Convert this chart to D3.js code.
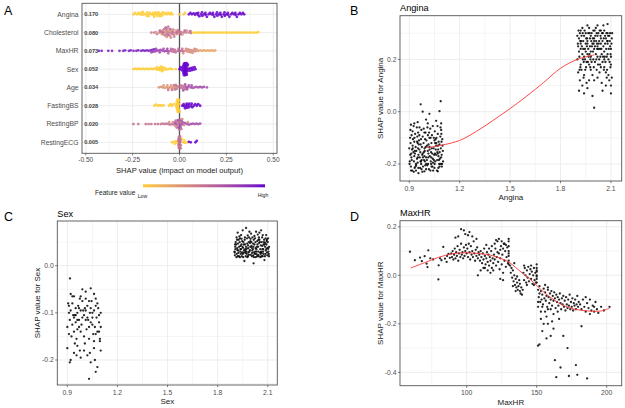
<!DOCTYPE html>
<html><head><meta charset="utf-8">
<script src="https://cdn.jsdelivr.net/npm/d3@7"></script>
<style>body{margin:0;background:#fff}svg{display:block;font-family:"Liberation Sans",Arial,sans-serif}</style>
</head><body><svg id="c" width="625" height="408"></svg>
<script>
// ---------- Panel A data ----------
const features = ["Angina","Cholesterol","MaxHR","Sex","Age","FastingBS","RestingBP","RestingECG"];
const meanAbsShap = ["0.170","0.080","0.073","0.052","0.034","0.028","0.020","0.005"];
const shapTicks = [-0.5,-0.25,0,0.25,0.5];
const shapTickLabels = ["-0.50","-0.25","0.00","0.25","0.50"];
const shapMinor = [-0.375,-0.125,0.125,0.375];
// each group: normalised feature value f (0 = low, 1 = high) and its SHAP values
const shapAngina = [
 {f:0, v:[-0.245,-0.238,-0.228,-0.22,-0.212,-0.205,-0.196,-0.19,-0.18,-0.172,-0.165,-0.158,-0.15,-0.142,-0.135,-0.128,-0.12,-0.112,-0.105,-0.098,-0.09,-0.083,-0.075,-0.068,-0.06,-0.052,-0.045,-0.038,-0.165,-0.14,-0.118,-0.095,-0.175,-0.13,-0.108,-0.2,0.0,0.022,0.03]},
 {f:1, v:[0.05,0.058,0.066,0.075,0.083,0.09,0.098,0.106,0.115,0.122,0.13,0.138,0.146,0.155,0.162,0.17,0.178,0.186,0.195,0.202,0.21,0.218,0.226,0.235,0.242,0.25,0.258,0.266,0.275,0.282,0.29,0.298,0.306,0.315,0.322,0.33,0.338,0.345,0.1,0.14,0.18,0.22,0.26,0.3,0.12,0.2,0.24]}
];
const shapCholesterol = [
 {f:0.45, v:[-0.15,-0.135,-0.12,-0.108,-0.098,-0.09,-0.082,-0.076,-0.07,-0.064,-0.058,-0.052,-0.046,-0.04,-0.034,-0.028,-0.022,-0.015,-0.008,0.0,0.01,0.022,0.035,0.05,0.062,-0.085,-0.072,-0.066,-0.06,-0.048,-0.03]},
 {f:0.3, v:[-0.125,-0.095,-0.078,-0.068,-0.055,-0.043,-0.02,-0.005,0.015,0.04]},
 {f:0.6, v:[-0.105,-0.088,-0.074,-0.062,-0.05,-0.036,-0.012,0.005,0.028,0.058]},
 {f:0, v:[0.075,0.086,0.097,0.108,0.12,0.131,0.142,0.153,0.165,0.176,0.188,0.199,0.21,0.222,0.233,0.245,0.256,0.268,0.279,0.29,0.302,0.313,0.325,0.336,0.348,0.36,0.372,0.385,0.398,0.41,0.42]}
];
const shapMaxHR = [
 {f:0.92, v:[-0.43,-0.415,-0.38,-0.36,-0.32,-0.3,-0.29,-0.27,-0.26,-0.245,-0.23,-0.22,-0.205,-0.195,-0.185,-0.175,-0.165,-0.155,-0.145,-0.135]},
 {f:0.75, v:[-0.15,-0.14,-0.13,-0.12,-0.11,-0.1,-0.09,-0.08,-0.07,-0.06,-0.125,-0.105,-0.085,-0.065]},
 {f:0.55, v:[-0.06,-0.05,-0.04,-0.03,-0.02,-0.01,0.0,0.01,-0.045,-0.025,-0.005,0.015,-0.035,0.02]},
 {f:0.35, v:[0.02,0.03,0.04,0.05,0.06,0.07,0.08,0.09,0.1,0.035,0.055,0.065,0.075,0.045,0.085]},
 {f:0.22, v:[0.11,0.12,0.13,0.14,0.15,0.16,0.17,0.18,0.19]}
];
const shapSex = [
 {f:0, v:[-0.245,-0.235,-0.225,-0.215,-0.205,-0.195,-0.185,-0.175,-0.165,-0.155,-0.145,-0.135,-0.125,-0.115,-0.108,-0.1,-0.095,-0.09,-0.085,-0.078,-0.07,-0.06,-0.05,-0.04,-0.12,-0.105,-0.092,-0.02]},
 {f:1, v:[0.0,0.005,0.01,0.015,0.018,0.021,0.024,0.027,0.03,0.033,0.036,0.039,0.042,0.045,0.05,0.055,0.06,0.065,0.07,0.075,0.08,0.085,0.02,0.025,0.028,0.031,0.034,0.037,0.04,0.022,0.03,0.035,0.026,0.032,0.038,0.029,0.024,0.041]}
];
const shapAge = [
 {f:0.3, v:[-0.11,-0.1,-0.09,-0.08,-0.07,-0.06,-0.05,-0.04,-0.085,-0.065,-0.045,-0.03,-0.02]},
 {f:0.5, v:[-0.06,-0.04,-0.03,-0.02,-0.01,0.0,0.01,0.02,0.03,-0.015,0.005,0.025,-0.025,0.015]},
 {f:0.7, v:[0.02,0.03,0.04,0.05,0.06,0.07,0.08,0.09,0.1,0.11,0.12,0.13,0.146,0.035,0.045,0.065]}
];
const shapFastingBS = [
 {f:0, v:[-0.134,-0.125,-0.115,-0.105,-0.095,-0.085,-0.055,-0.048,-0.04,-0.032,-0.018,-0.015,-0.012,-0.01,-0.008,-0.006,-0.004,-0.002,0.0,-0.014,-0.009,-0.005,-0.011,-0.003,-0.007,-0.016]},
 {f:1, v:[0.015,0.022,0.03,0.038,0.045,0.052,0.06,0.068,0.076,0.084,0.092,0.1,0.11,0.025,0.035,0.05,0.065,0.04]}
];
const shapRestingBP = [
 {f:0.5, v:[-0.246,-0.22,-0.18,-0.165,-0.15,-0.13,-0.115,-0.1,-0.09,-0.08,-0.07,-0.06,-0.05,-0.04,-0.03,-0.02,-0.015,-0.01,-0.005,0.0,0.005,0.01,-0.012,-0.002,0.008]},
 {f:0.7, v:[-0.025,-0.018,-0.008,0.003,0.012,0.02,0.03,0.04,0.05,0.06,0.07,0.08,0.09,0.1,0.11,-0.004,0.006,0.015]},
 {f:0.35, v:[-0.055,-0.035,-0.022,0.015,0.025,0.045]}
];
const shapRestingECG = [
 {f:0, v:[-0.04,-0.03,-0.02,-0.012,0.012,0.02,0.03,0.04,-0.025,0.025]},
 {f:0.5, v:[-0.006,-0.004,-0.002,0.0,0.002,0.004,0.006,-0.005,-0.001,0.001,0.003,-0.003,0.005,-0.007,0.007,0.0,-0.002,0.002]},
 {f:1, v:[0.05,0.06,0.085,0.092]}
];
const shapByFeature = [shapAngina,shapCholesterol,shapMaxHR,shapSex,shapAge,shapFastingBS,shapRestingBP,shapRestingECG];

// ---------- Panel B data (Angina dependence) ----------
const anginaLow = [[0.91,-0.21],[0.93,-0.17],[0.95,-0.12],[0.97,-0.19],[0.99,-0.08],[1.01,-0.15],[1.03,-0.2],[1.05,-0.11],[1.07,-0.16],[1.09,-0.07],
[0.92,-0.13],[0.94,-0.2],[0.96,-0.09],[0.98,-0.16],[1.0,-0.22],[1.02,-0.1],[1.04,-0.18],[1.06,-0.13],[1.08,-0.21],[1.1,-0.15],
[0.905,-0.1],[0.925,-0.155],[0.945,-0.06],[0.965,-0.215],[0.985,-0.12],[1.005,-0.185],[1.025,-0.065],[1.045,-0.14],[1.065,-0.225],[1.085,-0.095],
[0.915,-0.185],[0.935,-0.085],[0.955,-0.165],[0.975,-0.135],[0.995,-0.205],[1.015,-0.125],[1.035,-0.09],[1.055,-0.19],[1.075,-0.115],[1.095,-0.2],
[0.9,-0.14],[0.92,-0.075],[0.94,-0.225],[0.96,-0.145],[0.98,-0.095],[1.0,-0.175],[1.02,-0.135],[1.04,-0.055],[1.06,-0.165],[1.08,-0.125],
[0.91,-0.05],[0.93,-0.115],[0.95,-0.195],[0.97,-0.105],[0.99,-0.17],[1.01,-0.045],[1.03,-0.155],[1.05,-0.215],[1.07,-0.085],[1.09,-0.175],
[0.912,-0.16],[0.932,-0.215],[0.952,-0.14],[0.972,-0.07],[0.992,-0.15],[1.012,-0.2],[1.032,-0.12],[1.052,-0.075],[1.072,-0.145],[1.092,-0.115],
[0.902,-0.2],[0.922,-0.105],[0.942,-0.15],[0.962,-0.175],[0.982,-0.21],[1.002,-0.11],[1.022,-0.17],[1.042,-0.225],[1.062,-0.1],[1.082,-0.18],
[0.918,-0.225],[0.938,-0.135],[0.958,-0.11],[0.978,-0.23],[0.998,-0.135],[1.018,-0.08],[1.038,-0.21],[1.058,-0.145],[1.078,-0.2],[1.098,-0.13],
[0.908,-0.12],[0.928,-0.19],[0.948,-0.095],[0.968,-0.125],[0.988,-0.185],[1.008,-0.06],[1.028,-0.19],[1.048,-0.165],[1.068,-0.055],[1.088,-0.14],
[0.906,-0.165],[0.926,-0.055],[0.946,-0.18],[0.966,-0.155],[0.986,-0.065],[1.006,-0.13],[1.026,-0.225],[1.046,-0.1],[1.066,-0.185],[1.086,-0.06],
[0.914,-0.09],[0.934,-0.16],[0.954,-0.215],[0.974,-0.185],[0.994,-0.105],[1.014,-0.16],[1.034,-0.14],[1.054,-0.12],[1.074,-0.17],[1.094,-0.21],
[0.903,-0.19],[0.921,-0.14],[0.941,-0.205],[0.961,-0.06],[0.981,-0.175],[1.001,-0.2],[1.021,-0.145],[1.041,-0.195],[1.061,-0.12],[1.081,-0.155],[1.101,-0.19],
[0.911,-0.225],[0.931,-0.1],[0.951,-0.175],[0.971,-0.2],[0.991,-0.14],[1.011,-0.09],[1.031,-0.175],[1.051,-0.2],[1.071,-0.13],[1.091,-0.085],
[0.917,-0.145],[0.937,-0.21],[0.957,-0.125],[0.977,-0.165],[0.997,-0.08],[1.017,-0.22],[1.037,-0.16],[1.057,-0.105],[1.077,-0.185],[1.097,-0.105],
[0.907,-0.07],[0.927,-0.23],[0.947,-0.115],[0.967,-0.19],[0.987,-0.155],[1.007,-0.205],[1.027,-0.1],[1.047,-0.185],[1.067,-0.155],[1.087,-0.2],
[0.913,-0.175],[0.933,-0.15],[0.953,-0.08],[0.973,-0.22],[0.993,-0.19],[1.013,-0.175],[1.033,-0.21],[1.053,-0.16],[1.073,-0.215],[1.093,-0.165],
[0.968,0.028],[1.087,0.04],[0.98,0.0],[1.02,-0.008],[1.08,0.002],[1.06,-0.035],[0.95,-0.04],[1.0,-0.03],[0.93,-0.045],[1.09,-0.045],[0.955,-0.235],[1.07,-0.228],[0.99,-0.228]];
const anginaHigh = [[1.91,0.28],[1.93,0.22],[1.95,0.3],[1.97,0.18],[1.99,0.26],[2.01,0.32],[2.03,0.2],[2.05,0.27],[2.07,0.15],[2.09,0.29],
[1.9,0.2],[1.92,0.31],[1.94,0.14],[1.96,0.27],[1.98,0.23],[2.0,0.12],[2.02,0.29],[2.04,0.17],[2.06,0.31],[2.08,0.22],[2.1,0.18],
[1.905,0.25],[1.925,0.16],[1.945,0.24],[1.965,0.3],[1.985,0.19],[2.005,0.25],[2.025,0.3],[2.045,0.11],[2.065,0.26],[2.085,0.14],[2.105,0.28],
[1.915,0.12],[1.935,0.27],[1.955,0.19],[1.975,0.25],[1.995,0.31],[2.015,0.16],[2.035,0.24],[2.055,0.33],[2.075,0.21],[2.095,0.25],
[1.91,0.23],[1.93,0.1],[1.95,0.26],[1.97,0.32],[1.99,0.14],[2.01,0.22],[2.03,0.27],[2.05,0.19],[2.07,0.28],[2.09,0.12],
[1.92,0.26],[1.94,0.21],[1.96,0.09],[1.98,0.29],[2.0,0.24],[2.02,0.13],[2.04,0.28],[2.06,0.23],[2.08,0.3],[2.1,0.1],
[1.9,0.29],[1.92,0.18],[1.94,0.29],[1.96,0.22],[1.98,0.16],[2.0,0.28],[2.02,0.21],[2.04,0.31],[2.06,0.17],[2.08,0.26],[2.1,0.24],
[1.905,0.15],[1.925,0.29],[1.945,0.2],[1.965,0.24],[1.985,0.3],[2.005,0.19],[2.025,0.24],[2.045,0.22],[2.065,0.29],[2.085,0.2],[2.105,0.13],
[1.915,0.3],[1.935,0.24],[1.955,0.11],[1.975,0.28],[1.995,0.2],[2.015,0.3],[2.035,0.18],[2.055,0.25],[2.075,0.13],[2.095,0.3],
[1.912,0.21],[1.932,0.3],[1.952,0.17],[1.972,0.22],[1.992,0.28],[2.012,0.27],[2.032,0.15],[2.052,0.3],[2.072,0.24],[2.092,0.19],
[1.918,0.17],[1.938,0.19],[1.958,0.28],[1.978,0.2],[1.998,0.17],[2.018,0.24],[2.038,0.29],[2.058,0.16],[2.078,0.27],[2.098,0.22],
[1.903,0.26],[1.923,0.27],[1.943,0.31],[1.963,0.19],[1.983,0.27],[2.003,0.31],[2.023,0.18],[2.043,0.24],[2.063,0.21],[2.083,0.29],[2.103,0.26],
[1.913,0.16],[1.933,0.2],[1.953,0.28],[1.973,0.3],[1.993,0.23],[2.013,0.2],[2.033,0.31],[2.053,0.21],[2.073,0.3],[2.093,0.27],
[1.907,0.31],[1.927,0.25],[1.947,0.16],[1.967,0.21],[1.987,0.25],[2.007,0.29],[2.027,0.26],[2.047,0.3],[2.067,0.19],[2.087,0.24],[2.107,0.3],
[1.917,0.27],[1.937,0.13],[1.957,0.25],[1.977,0.17],[1.997,0.26],[2.017,0.26],[2.037,0.21],[2.057,0.28],[2.077,0.16],[2.097,0.17],
[1.91,0.08],[1.94,0.07],[1.96,0.33],[1.99,0.06],[2.02,0.33],[2.05,0.08],[2.08,0.335],[2.1,0.07],[2.0,0.015],[1.93,0.32],[2.07,0.1],[1.97,0.12],
[1.95,0.23],[2.0,0.27],[2.04,0.26],[1.92,0.24],[2.08,0.27],[1.98,0.21],[2.06,0.2],[2.02,0.25],[1.96,0.26],[2.1,0.21]];
const anginaLoess = [[1.0,-0.138],[1.1,-0.127],[1.2,-0.11],[1.3,-0.075],[1.4,-0.033],[1.5,0.012],[1.6,0.06],[1.7,0.112],[1.8,0.166],[1.9,0.2],[2.0,0.217]];

// ---------- Panel C data (Sex dependence) ----------
const sexLow = [[0.91,-0.1],[0.93,-0.08],[0.95,-0.12],[0.97,-0.09],[0.99,-0.11],[1.01,-0.07],[1.03,-0.13],[1.05,-0.1],[1.07,-0.085],[1.09,-0.12],
[0.9,-0.13],[0.92,-0.095],[0.94,-0.065],[0.96,-0.115],[0.98,-0.14],[1.0,-0.105],[1.02,-0.085],[1.04,-0.12],[1.06,-0.095],[1.08,-0.14],[1.1,-0.1],
[0.905,-0.08],[0.925,-0.15],[0.945,-0.105],[0.965,-0.085],[0.985,-0.125],[1.005,-0.09],[1.025,-0.115],[1.045,-0.075],[1.065,-0.13],[1.085,-0.09],
[0.915,-0.115],[0.935,-0.105],[0.955,-0.155],[0.975,-0.07],[0.995,-0.095],[1.015,-0.135],[1.035,-0.1],[1.055,-0.145],[1.075,-0.11],[1.095,-0.16],
[0.91,-0.145],[0.93,-0.125],[0.95,-0.09],[0.97,-0.13],[0.99,-0.075],[1.01,-0.115],[1.03,-0.155],[1.05,-0.125],[1.07,-0.07],[1.09,-0.105],
[0.92,-0.06],[0.94,-0.11],[0.96,-0.1],[0.98,-0.095],[1.0,-0.15],[1.02,-0.11],[1.04,-0.09],[1.06,-0.16],[1.08,-0.08],[1.1,-0.13],
[0.9,-0.175],[0.92,-0.2],[0.94,-0.185],[0.96,-0.17],[0.98,-0.195],[1.0,-0.18],[1.02,-0.19],[1.04,-0.205],[1.06,-0.175],[1.08,-0.215],[1.1,-0.18],
[0.915,-0.205],[0.945,-0.165],[0.975,-0.18],[1.005,-0.165],[1.035,-0.185],[1.065,-0.2],[1.095,-0.155],[1.07,-0.225],[1.03,-0.24],[0.955,-0.19],
[0.916,-0.027],[0.99,-0.05],[1.04,-0.048],[1.06,-0.06],[0.93,-0.065],[1.01,-0.055],[0.98,-0.065],
[0.95,-0.105],[0.97,-0.115],[1.01,-0.095],[1.03,-0.075],[0.91,-0.085],[1.05,-0.11],[1.09,-0.14],[0.96,-0.135],[1.07,-0.145],[0.94,-0.14]];
const sexHigh = [
[1.901,0.03],[1.911,0.045],[1.92,0.02],[1.932,0.05],[1.94,0.035],[1.951,0.025],[1.962,0.055],[1.97,0.04],[1.981,0.02],[1.99,0.03],[2.002,0.05],[2.011,0.035],[2.02,0.045],[2.031,0.025],[2.042,0.04],[2.05,0.055],[2.061,0.03],[2.07,0.02],[2.08,0.045],[2.091,0.035],[2.1,0.05],
[1.905,0.04],[1.914,0.025],[1.926,0.055],[1.935,0.03],[1.944,0.02],[1.956,0.045],[1.965,0.035],[1.974,0.025],[1.986,0.05],[1.995,0.04],[2.005,0.02],[2.016,0.055],[2.025,0.03],[2.034,0.04],[2.046,0.02],[2.055,0.035],[2.064,0.05],[2.075,0.045],[2.086,0.025],[2.095,0.055],[2.104,0.03],
[1.903,0.022],[1.917,0.037],[1.923,0.032],[1.937,0.042],[1.947,0.052],[1.953,0.018],[1.967,0.027],[1.977,0.047],[1.983,0.037],[1.997,0.057],[2.007,0.032],[2.013,0.022],[2.027,0.037],[2.037,0.052],[2.043,0.03],[2.057,0.025],[2.067,0.042],[2.073,0.035],[2.087,0.058],[2.097,0.022],[2.108,0.04],
[1.908,0.05],[1.912,0.018],[1.928,0.04],[1.938,0.025],[1.942,0.045],[1.958,0.033],[1.968,0.02],[1.972,0.03],[1.988,0.06],[1.998,0.023],[2.003,0.042],[2.018,0.028],[2.028,0.018],[2.032,0.035],[2.048,0.048],[2.058,0.043],[2.062,0.02],[2.078,0.055],[2.088,0.032],[2.092,0.045],[2.106,0.025],
[1.906,0.035],[1.916,0.055],[1.924,0.027],[1.934,0.058],[1.946,0.028],[1.954,0.05],[1.964,0.045],[1.976,0.058],[1.984,0.028],[1.994,0.048],[2.006,0.027],[2.014,0.04],[2.024,0.058],[2.036,0.02],[2.044,0.055],[2.054,0.028],[2.066,0.06],[2.074,0.025],[2.084,0.04],[2.096,0.028],[2.102,0.058],
[1.902,0.028],[1.918,0.033],[1.922,0.047],[1.933,0.018],[1.948,0.04],[1.952,0.038],[1.963,0.06],[1.978,0.018],[1.982,0.043],[1.993,0.033],[2.008,0.06],[2.012,0.047],[2.023,0.025],[2.038,0.045],[2.042,0.023],[2.053,0.05],[2.068,0.035],[2.072,0.03],[2.083,0.02],[2.098,0.038],[2.107,0.02],
[1.904,0.045],[1.913,0.06],[1.927,0.02],[1.936,0.035],[1.943,0.057],[1.957,0.028],[1.966,0.031],[1.973,0.036],[1.987,0.023],[1.996,0.052],[2.004,0.038],[2.017,0.018],[2.026,0.05],[2.033,0.03],[2.047,0.06],[2.056,0.018],[2.063,0.027],[2.077,0.05],[2.085,0.048],[2.093,0.052],[2.103,0.036],
[1.92,0.07],[1.95,0.075],[1.97,0.08],[2.0,0.068],[2.03,0.072],[2.05,0.07],[2.07,0.065],[2.09,0.065],[1.94,0.065],[1.99,0.072],[2.02,0.063],[2.06,0.075],[2.015,0.005],[1.96,0.01],[2.08,0.012],[1.93,0.062],[2.04,0.066],[1.98,0.064]];

// ---------- Panel D data (MaxHR dependence) ----------
const maxHRPts = [[59.5,0.097],[63,0.062],[66.7,0.073],[68,0.058],[70,0.079],[71.4,0.048],[72,0.034],[72.6,0.103],[74,0.07],[76,0.065],[79.8,-0.017],[80,0.041],[81,0.07],[82,0.062],[83.3,0.117],[84.5,0.069],[85.7,0.055],[86,0.08],[87,0.088],[88,0.072],
[89,0.09],[89.5,0.075],[90,0.1],[90.5,0.065],[91,0.085],[91.5,0.11],[92,0.07],[92.5,0.095],[93,0.08],[93.5,0.12],[94,0.06],[94.5,0.09],[95,0.105],[95.5,0.075],[96,0.13],[96.5,0.085],[97,0.095],[97.5,0.07],[98,0.115],[98.5,0.08],[99,0.1],[99.5,0.125],[100,0.09],[100.5,0.11],[101,0.075],[101.5,0.13],[102,0.095],[102.5,0.065],[103,0.12],[103.5,0.085],[104,0.1],[104.5,0.075],[105,0.14],[105.5,0.09],[106,0.06],[106.5,0.105],[107,0.08],[107.5,0.115],[108,0.07],[108.5,0.095],
[92,0.155],[94,0.16],[96,0.19],[98,0.185],[99,0.17],[101,0.165],[104,0.16],[107,0.15],[102,0.178],[108,0.0],[110,0.02],[113,0.03],
[109,0.085],[109.5,0.06],[110,0.1],[110.5,0.075],[111,0.05],[111.5,0.09],[112,0.065],[112.5,0.11],[113,0.08],[113.5,0.045],[114,0.07],[114.5,0.095],[115,0.055],[115.5,0.085],[116,0.04],[116.5,0.075],[117,0.06],[117.5,0.1],[118,0.03],[118.5,0.07],[119,0.05],[119.5,0.085],[120,0.065],[120.5,0.11],[121,0.04],[121.5,0.075],[122,0.14],[122.5,0.055],[123,0.09],[123.5,0.025],[124,0.07],[124.5,0.12],[125,0.045],[125.5,0.085],[126,0.01],[126.5,0.13],[127,0.06],[127.5,0.1],[128,0.035],[128.5,0.075],[129,0.115],[129.5,0.05],[130,0.14],[130,0.12],[130,0.1],[130,0.08],[130,0.06],[130,0.045],[130,0.15],[130,0.09],
[121,0.145],[123,0.15],[125,0.14],[127,0.13],[126,0.11],[128,0.125],[124,0.105],[122,0.095],[120,0.13],[119,0.02],[117,0.01],[115,0.02],[112,0.03],[124,-0.015],[126,-0.02],[118,0.12],[116,0.11],[114,0.125],
[131,0.04],[131.5,0.01],[132,0.03],[132.5,-0.01],[133,0.02],[133.5,-0.025],[134,0.0],[134.5,-0.04],[135,-0.015],[135.5,-0.05],[136,-0.03],[136.5,-0.06],[137,-0.045],[137.5,-0.02],[138,-0.065],[138.5,-0.075],[139,-0.05],[139.5,-0.08],[140,-0.06],[134,0.05],[136,-0.005],[138,-0.035],[133,-0.045],[135,-0.065],
[140.5,0.01],[141,-0.02],[141.5,0.03],[142,0.0],[142.5,-0.03],[143,0.02],[143.5,-0.01],[144,0.035],[144.5,-0.025],[145,0.005],[145.5,0.025],[146,-0.015],[146.5,0.015],[147,-0.035],[147.5,0.0],[148,0.03],[148.5,-0.02],[149,0.01],[149.5,-0.03],[150,0.045],[150,0.03],[150,0.015],[150,0.0],[150,-0.015],[150,-0.03],[150,0.02],[150,-0.005],[141,0.04],[143,-0.04],[146,0.04],[148,-0.04],
[151,-0.06],[151.5,-0.09],[152,-0.075],[152.5,-0.11],[153,-0.065],[153.5,-0.1],[154,-0.08],[154.5,-0.12],[155,-0.055],[155.5,-0.095],[156,-0.07],[156.5,-0.105],[157,-0.085],[157.5,-0.13],[158,-0.06],[158.5,-0.09],[159,-0.115],[159.5,-0.075],[160,-0.1],[160.5,-0.065],[161,-0.125],[161.5,-0.085],[162,-0.105],[162.5,-0.07],[163,-0.095],[163.5,-0.135],[164,-0.08],[164.5,-0.11],[165,-0.09],[165.5,-0.125],[166,-0.1],[166.5,-0.075],[167,-0.115],[167.5,-0.14],[168,-0.095],[168.5,-0.12],[169,-0.085],[169.5,-0.13],[170,-0.105],[170.5,-0.145],[171,-0.09],[171.5,-0.12],[172,-0.135],[172.5,-0.1],[173,-0.125],[173.5,-0.08],[174,-0.14],[174.5,-0.11],[175,-0.13],[175.5,-0.095],[176,-0.145],[176.5,-0.115],[177,-0.125],[177.5,-0.1],[178,-0.14],[178.5,-0.12],[179,-0.085],[179.5,-0.13],[180,-0.11],
[152,-0.045],[156,-0.04],[158,-0.05],[154,-0.13],[156,-0.15],[160,-0.14],[162,-0.16],[165,-0.15],[158,-0.14],[151,-0.13],[153,-0.15],[151,-0.11],
[151,-0.29],[152,-0.285],[154,-0.23],[155,-0.2],[153,-0.18],[157,-0.26],[158,-0.2],[160,-0.25],[161,-0.19],[163,-0.35],[164,-0.42],[162,-0.22],[167,-0.38],[169,-0.25],[172,-0.3],[173,-0.415],[178,-0.37],[179,-0.41],[182,-0.21],[186,-0.425],[157,-0.17],[166,-0.18],
[181,-0.12],[182,-0.14],[183,-0.1],[184,-0.13],[185,-0.15],[186,-0.115],[187,-0.135],[188,-0.1],[189,-0.145],[190,-0.125],[191,-0.15],[192,-0.11],[193,-0.14],[194,-0.155],[196,-0.13],[198,-0.145],[202,-0.13],[185,-0.09],[188,-0.16],[191,-0.13]];
const maxHRLoess = [[60,0.03],[70,0.052],[80,0.074],[90,0.089],[100,0.093],[110,0.089],[117,0.083],[125,0.068],[130,0.055],[135,0.032],[140,0.008],[145,-0.015],[150,-0.042],[155,-0.069],[162,-0.1],[169,-0.124],[176,-0.138],[183,-0.145],[190,-0.148],[196,-0.147],[202,-0.136]];

// ---------- drawing ----------
const svg = d3.select("#c");
const GRID = "#ebebeb", BORDER = "#555", TICKTXT = "#4d4d4d", TITLE = "#1a1a1a";
const colorScale = d3.scaleLinear().domain([0,1]).range(["#FFCC33","#6600CC"]).interpolate(d3.interpolateLab);

function letter(t,x,y){ svg.append("text").attr("x",x).attr("y",y).attr("font-size",12.5).attr("fill","#000").text(t); }

// Panel A
(function(){
  const L=82,R=277,T=3.3,B=153.3;
  const x=d3.scaleLinear().domain([-0.52,0.52]).range([L,R]);
  const y=d3.scalePoint().domain(features).range([T,B]).padding(0.6);
  const g=svg.append("g");
  g.selectAll(".mn").data(shapMinor).join("line").attr("x1",d=>x(d)).attr("x2",d=>x(d)).attr("y1",T).attr("y2",B).attr("stroke",GRID).attr("stroke-width",0.5);
  g.selectAll(".mj").data(shapTicks).join("line").attr("x1",d=>x(d)).attr("x2",d=>x(d)).attr("y1",T).attr("y2",B).attr("stroke",GRID).attr("stroke-width",0.9);
  g.selectAll(".hr").data(features).join("line").attr("x1",L).attr("x2",R).attr("y1",d=>y(d)).attr("y2",d=>y(d)).attr("stroke",GRID).attr("stroke-width",0.9);
  g.append("line").attr("x1",x(0)).attr("x2",x(0)).attr("y1",T).attr("y2",B).attr("stroke","#555").attr("stroke-width",1.3);
  const r=1.4, cap=6, minGap=1.9;
  features.forEach((feat,i)=>{
    const pts=[];
    shapByFeature[i].forEach(gr=>gr.v.forEach(v=>pts.push({px:x(v),f:gr.f})));
    const order=pts.slice().sort((a,b)=>a.px-b.px);
    const placed=[];
    order.forEach(p=>{
      let best=0,bestScore=-1;
      for(let k=0;k<60;k++){
        const m=Math.ceil(k/2)*0.5, dy=k%2?-m:m;
        if(Math.abs(dy)>cap)break;
        let minD=Infinity;
        for(let j=placed.length-1;j>=0;j--){const q=placed[j]; if(p.px-q.px>2*r)break; const d=Math.hypot(p.px-q.px,dy-q.dy); if(d<minD)minD=d;}
        if(minD>=minGap){best=dy;break;}
        if(minD>bestScore){bestScore=minD;best=dy;}
      }
      p.dy=best; placed.push(p);
    });
    g.append("g").selectAll("circle").data(pts).join("circle")
      .attr("cx",d=>d.px).attr("cy",d=>y(feat)+d.dy).attr("r",r)
      .attr("fill",d=>colorScale(d.f)).attr("fill-opacity",0.85);
  });
  g.append("rect").attr("x",L).attr("y",T).attr("width",R-L).attr("height",B-T).attr("fill","none").attr("stroke",BORDER).attr("stroke-width",0.9);
  g.selectAll(".tk").data(shapTicks).join("line").attr("x1",d=>x(d)).attr("x2",d=>x(d)).attr("y1",B).attr("y2",B+2.2).attr("stroke","#333").attr("stroke-width",0.6);
  g.selectAll(".tl").data(shapTicks).join("text").attr("x",d=>x(d)).attr("y",B+8.3).attr("text-anchor","middle").attr("font-size",6.6).attr("fill",TICKTXT).text((d,i)=>shapTickLabels[i]);
  g.selectAll(".yl").data(features).join("text").attr("x",L-3.5).attr("y",d=>y(d)+2.4).attr("text-anchor","end").attr("font-size",6.8).attr("fill",TICKTXT).text(d=>d);
  g.selectAll(".mv").data(features).join("text").attr("x",L+2.2).attr("y",d=>y(d)+2).attr("font-size",5.6).attr("font-weight","bold").attr("fill","#444").text((d,i)=>meanAbsShap[i]);
  g.append("text").attr("x",x(0)).attr("y",172.5).attr("text-anchor","middle").attr("font-size",7.6).attr("fill",TITLE).text("SHAP value (impact on model output)");
  // legend
  const defs=svg.append("defs");
  const grad=defs.append("linearGradient").attr("id","fv");
  d3.range(0,1.0001,0.1).forEach(t=>grad.append("stop").attr("offset",t).attr("stop-color",colorScale(t)));
  g.append("rect").attr("x",143).attr("y",184.3).attr("width",122).attr("height",3).attr("fill","url(#fv)");
  g.append("text").attr("x",95).attr("y",194.5).attr("font-size",6.6).attr("fill",TITLE).text("Feature value");
  g.append("text").attr("x",142.5).attr("y",197.5).attr("text-anchor","middle").attr("font-size",5.2).attr("fill",TITLE).text("Low");
  g.append("text").attr("x",263).attr("y",197).attr("text-anchor","middle").attr("font-size",5.2).attr("fill",TITLE).text("High");
})();
letter("A",4,15);

function depPanel(c){
  const x=d3.scaleLinear().domain(c.xdom).range([c.L,c.R]);
  const y=d3.scaleLinear().domain(c.ydom).range([c.B,c.T]);
  const g=svg.append("g");
  const vline=(arr,w)=>g.append("g").selectAll("line").data(arr).join("line").attr("x1",d=>x(d)).attr("x2",d=>x(d)).attr("y1",c.T).attr("y2",c.B).attr("stroke",GRID).attr("stroke-width",w);
  const hline=(arr,w)=>g.append("g").selectAll("line").data(arr).join("line").attr("y1",d=>y(d)).attr("y2",d=>y(d)).attr("x1",c.L).attr("x2",c.R).attr("stroke",GRID).attr("stroke-width",w);
  vline(c.xminor,0.5); hline(c.yminor,0.5); vline(c.xticks,0.9); hline(c.yticks,0.9);
  g.append("g").selectAll("circle").data(c.pts).join("circle").attr("cx",d=>x(d[0])).attr("cy",d=>y(d[1])).attr("r",1.15).attr("fill","#000").attr("fill-opacity",0.85);
  if(c.loess) g.append("path").datum(c.loess).attr("d",d3.line().x(d=>x(d[0])).y(d=>y(d[1])).curve(d3.curveCatmullRom)).attr("fill","none").attr("stroke","#ff3333").attr("stroke-width",0.9);
  g.append("rect").attr("x",c.L).attr("y",c.T).attr("width",c.R-c.L).attr("height",c.B-c.T).attr("fill","none").attr("stroke",BORDER).attr("stroke-width",0.9);
  g.append("g").selectAll("line").data(c.xticks).join("line").attr("x1",d=>x(d)).attr("x2",d=>x(d)).attr("y1",c.B).attr("y2",c.B+2.2).attr("stroke","#333").attr("stroke-width",0.6);
  g.append("g").selectAll("line").data(c.yticks).join("line").attr("y1",d=>y(d)).attr("y2",d=>y(d)).attr("x1",c.L-2.2).attr("x2",c.L).attr("stroke","#333").attr("stroke-width",0.6);
  g.append("g").selectAll("text").data(c.xticks).join("text").attr("x",d=>x(d)).attr("y",c.B+9.5).attr("text-anchor","middle").attr("font-size",6.8).attr("fill",TICKTXT).text((d,i)=>c.xlabels[i]);
  g.append("g").selectAll("text").data(c.yticks).join("text").attr("x",c.L-3.5).attr("y",d=>y(d)+2.4).attr("text-anchor","end").attr("font-size",6.8).attr("fill",TICKTXT).text((d,i)=>c.ylabels[i]);
  g.append("text").attr("x",(c.L+c.R)/2).attr("y",c.B+19).attr("text-anchor","middle").attr("font-size",8).attr("fill",TITLE).text(c.xtitle);
  g.append("text").attr("transform",`translate(${c.L-17},${(c.T+c.B)/2}) rotate(-90)`).attr("text-anchor","middle").attr("font-size",8).attr("fill",TITLE).text(c.ytitle);
  g.append("text").attr("x",c.L).attr("y",c.T-4.5).attr("font-size",9.2).attr("fill","#000").text(c.title);
}

depPanel({L:400,R:621.7,T:15.7,B:181,xdom:[0.845,2.164],ydom:[-0.265,0.367],
  xticks:[0.9,1.2,1.5,1.8,2.1],xlabels:["0.9","1.2","1.5","1.8","2.1"],xminor:[1.05,1.35,1.65,1.95],
  yticks:[-0.2,0,0.2],ylabels:["-0.2","0.0","0.2"],yminor:[-0.1,0.1,0.3],
  pts:anginaLow.concat(anginaHigh),loess:anginaLoess,title:"Angina",xtitle:"Angina",ytitle:"SHAP value for Angina"});
depPanel({L:57.3,R:277.3,T:221,B:385,xdom:[0.84,2.157],ydom:[-0.253,0.0948],
  xticks:[0.9,1.2,1.5,1.8,2.1],xlabels:["0.9","1.2","1.5","1.8","2.1"],xminor:[1.05,1.35,1.65,1.95],
  yticks:[-0.2,-0.1,0],ylabels:["-0.2","-0.1","0.0"],yminor:[-0.25,-0.15,-0.05,0.05],
  pts:sexLow.concat(sexHigh),loess:null,title:"Sex",xtitle:"Sex",ytitle:"SHAP value for Sex"});
depPanel({L:400,R:621.7,T:220.7,B:385.7,xdom:[52.4,210.7],ydom:[-0.455,0.225],
  xticks:[100,150,200],xlabels:["100","150","200"],xminor:[75,125,175],
  yticks:[-0.4,-0.2,0,0.2],ylabels:["-0.4","-0.2","0.0","0.2"],yminor:[-0.3,-0.1,0.1],
  pts:maxHRPts,loess:maxHRLoess,title:"MaxHR",xtitle:"MaxHR",ytitle:"SHAP value for MaxHR"});
letter("B",350,15);
letter("C",4,221);
letter("D",350,221);
</script></body></html>
